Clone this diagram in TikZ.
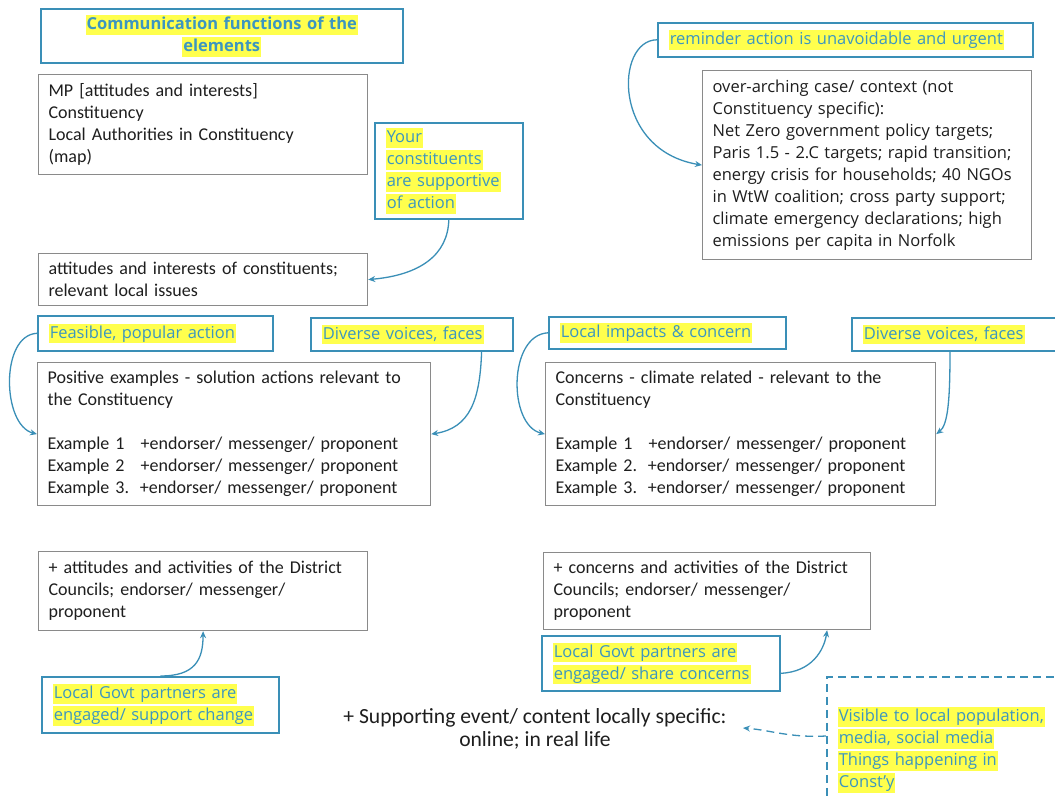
\documentclass[tikz,border=0pt]{standalone}
\usepackage{fontspec}
\setmainfont{Carlito}
\newfontfamily\calloutfont{Open Sans}
\usetikzlibrary{arrows.meta}
\definecolor{callblue}{HTML}{3A8FB7}
\definecolor{calltext}{HTML}{3C96C0}
\definecolor{hlyellow}{HTML}{FFFF4D}
\definecolor{boxgray}{HTML}{8A8A8A}
\definecolor{bodytext}{HTML}{1E1E1E}
% yellow highlight behind one line of callout text
\newcommand{\hl}[1]{{\setlength{\fboxsep}{0pt}\colorbox{hlyellow}{\rule[-5pt]{0pt}{19.5pt}\kern1pt#1\kern1pt}}}
\begin{document}
\begin{tikzpicture}[x=1pt,y=-1pt,
  txt/.style={font=\fontsize{18}{22}\selectfont},
  ctxt/.style={font=\calloutfont\fontsize{16.5}{22}\selectfont},
  plain/.style={txt, draw=boxgray, line width=1.2pt, text=bodytext, anchor=north west,
    align=left, inner xsep=10pt, inner ysep=0pt},
  callout/.style={ctxt, draw=callblue, line width=1.6pt, text=calltext, anchor=north west,
    align=left, inner xsep=11pt, inner ysep=0pt},
  link/.style={draw=callblue, line width=1.3pt, -{Stealth[length=7pt,width=6pt]}},
]
\useasboundingbox (0,0) rectangle (1055,799);
\fill[white] (0,0) rectangle (1055,799);

% title
\node[callout, align=center, inner xsep=10pt, text width=342, minimum height=54,
  font=\calloutfont\fontsize{16.5}{22}\selectfont\bfseries] (title) at (40,8)
  {\hl{Communication functions of the}\\\hl{elements}};

% left column, top
\node[plain, text width=309, minimum height=100] (mp) at (38,74)
  {MP [attitudes and interests]\\Constituency\\Local Authorities in Constituency\\(map)};
\node[callout, text width=126, minimum height=96] (your) at (374,122)
  {\hl{Your}\\\hl{constituents}\\\hl{are supportive}\\\hl{of action}};
\node[plain, text width=309, minimum height=52] (att) at (38,253)
  {attitudes and interests of constituents;\\relevant local issues};

% right column, top
\node[callout, text width=353, minimum height=34] (rem) at (657,22)
  {\hl{reminder action is unavoidable and urgent}};
\node[plain, ctxt, text width=309, minimum height=189] (over) at (702,70)
  {over-arching case/ context (not\\Constituency specific):\\Net Zero government policy targets;\\
   Paris 1.5 - 2.C targets; rapid transition;\\energy crisis for households; 40 NGOs\\
   in WtW coalition; cross party support;\\climate emergency declarations; high\\
   emissions per capita in Norfolk};

% examples row
\node[callout, text width=213, minimum height=35] (feas) at (37,315) {\hl{Feasible, popular action}};
\node[callout, text width=180, minimum height=33] (div1) at (310,317) {\hl{Diverse voices, faces}};
\node[plain, text width=373, minimum height=143] (pos) at (37,362)
  {Positive examples - solution actions relevant to\\the Constituency\\[22pt]
   Example 1\hspace{0.9em}+endorser/ messenger/ proponent\\
   Example 2\hspace{0.9em}+endorser/ messenger/ proponent\\
   Example 3.\hspace{0.6em}+endorser/ messenger/ proponent};

\node[callout, text width=215, minimum height=32] (loc) at (548,316) {\hl{Local impacts \& concern}};
\node[callout, text width=198, minimum height=33] (div2) at (851,317) {\hl{Diverse voices, faces}};
\node[plain, text width=370, minimum height=143] (con) at (545,362)
  {Concerns - climate related - relevant to the\\Constituency\\[22pt]
   Example 1\hspace{0.9em}+endorser/ messenger/ proponent\\
   Example 2.\hspace{0.6em}+endorser/ messenger/ proponent\\
   Example 3.\hspace{0.6em}+endorser/ messenger/ proponent};

% district councils
\node[plain, text width=309, minimum height=79] (dis1) at (38,551)
  {+ attitudes and activities of the District\\Councils; endorser/ messenger/\\proponent};
\node[callout, text width=215, minimum height=56] (gov1) at (41,676)
  {\hl{Local Govt partners are}\\\hl{engaged/ support change}};
\node[plain, text width=307, minimum height=77] (dis2) at (543,552)
  {+ concerns and activities of the District\\Councils; endorser/ messenger/\\proponent};
\node[callout, text width=216, minimum height=55] (gov2) at (541,635)
  {\hl{Local Govt partners are}\\\hl{engaged/ share concerns}};

% supporting event
\node[font=\fontsize{21.6}{23.5}\selectfont, text=bodytext, align=center, inner sep=0pt] (sup) at (535,729)
  {+ Supporting event/ content locally specific:\\online; in real life};
\coordinate (supend) at (743,728);
\node[callout, dashed, dash pattern=on 8pt off 5pt, text width=220, minimum height=146] (vis) at (826,676)
  {\hl{Visible to local population,}\\\hl{media, social media}\\\hl{Things happening in}\\\hl{Const’y}};

% connectors
\draw[link] (your.south) .. controls (448,255) and (420,275) .. (att.east);
\draw[link] (rem.west) .. controls (615,40) and (612,150) .. (over.west);
\draw[link] (feas.west) .. controls (0,335) and (2,425) .. (pos.west);
\draw[link] ([xshift=-32pt]div1.south east) .. controls (480,400) and (470,428) .. (pos.east);
\draw[link] (loc.west) .. controls (508,335) and (508,425) .. (con.west);
\draw[link] ([xshift=99pt]div2.south west) .. controls (950,400) and (948,425) .. (con.east);
\draw[link] (gov1.north) .. controls (195,676) and (203,660) .. (dis1.south);
\draw[link] ([yshift=-10pt]gov2.east) .. controls (812,672) and (824,650) .. ([xshift=120pt]dis2.south);
\draw[link, dashed, dash pattern=on 8pt off 5pt] ([yshift=-60pt]vis.north west)
  .. controls (790,738) and (770,730) .. (supend);
\end{tikzpicture}
\end{document}
